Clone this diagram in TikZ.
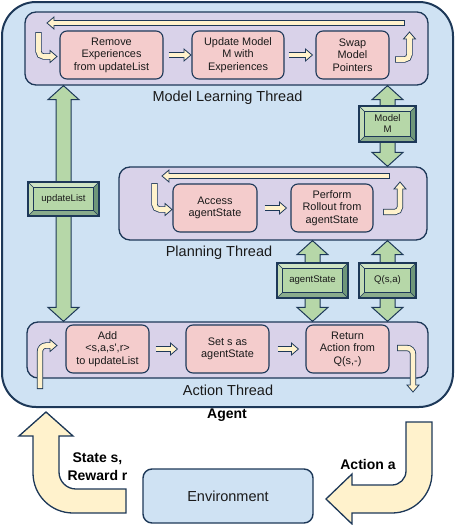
\documentclass[tikz,border=0pt]{standalone}
\usepackage{fontspec}
\setmainfont{Liberation Sans}
\usetikzlibrary{calc}
\pgfdeclarelayer{front}
\pgfsetlayers{main,front}
\definecolor{dk}{HTML}{1D3858}
\definecolor{ag}{HTML}{CFE2F3}
\definecolor{th}{HTML}{D9D2E9}
\definecolor{bx}{HTML}{F4CCCC}
\definecolor{cr}{HTML}{FFF2CC}
\definecolor{gr}{HTML}{B6D7A8}
\definecolor{bvtop}{HTML}{CFE4C4}
\definecolor{bvleft}{HTML}{C2DBB5}
\definecolor{bvright}{HTML}{6F977A}
\definecolor{bvbot}{HTML}{8AAC8C}
\definecolor{tx}{HTML}{1A1A1A}
% cream outlined arrow: #1 opts, #2 shaft path (ends at base), #3 base, #4 tip
\newcommand{\barrow}[4][]{%
  \draw[dk, line width=6.2pt, #1] #2;
  \filldraw[fill=cr, draw=dk, line width=0.8pt, line join=miter]
    ($(#3)!6pt!90:(#4)$) -- (#4) -- ($(#3)!6pt!-90:(#4)$) -- cycle;
  \draw[cr, line width=4.6pt, shorten <=0.8pt, shorten >=-1.2pt, #1] #2;
}
% straight cream arrow from coord #1 to tip coord #2
\newcommand{\sarrow}[2]{%
  \coordinate (sab) at ($(#2)!7pt!(#1)$);
  \barrow{(#1) -- (sab)}{sab}{#2}%
}
% green double-headed vertical arrow between tip coords #1 (top) and #2 (bottom)
\newcommand{\garrow}[2]{%
  \filldraw[fill=gr, draw=dk, line width=1pt, line join=miter]
    (#1) -- ($(#1)+(15.5,14)$) -- ($(#1)+(7.5,14)$) -- ($(#2)+(7.5,-14)$)
    -- ($(#2)+(15.5,-14)$) -- (#2) -- ($(#2)+(-15.5,-14)$) -- ($(#2)+(-7.5,-14)$)
    -- ($(#1)+(-7.5,14)$) -- ($(#1)+(-15.5,14)$) -- cycle;
}
\begin{document}
\begin{tikzpicture}[x=1pt,y=-1pt,
  txt/.style={font=\fontsize{10.9}{12.5}\selectfont, text=tx, align=center},
  box/.style={txt, draw=dk, line width=1.1pt, fill=bx, rounded corners=7pt, minimum height=48pt, inner sep=0pt},
  thread/.style={draw=dk, line width=1.3pt, fill=th, rounded corners=11pt, inner sep=0pt},
  tlabel/.style={font=\fontsize{14.5}{17}\selectfont, text=tx, anchor=base},
  blab/.style={font=\bfseries\fontsize{14}{18}\selectfont, text=black, align=center},
  bevbox/.style={draw=dk, line width=1.2pt, fill=gr, inner sep=0pt, align=center, text=tx,
    font=\fontsize{9.6}{11}\selectfont,
    path picture={
      \path (path picture bounding box.north west) coordinate (q1)
            (path picture bounding box.north east) coordinate (q2)
            (path picture bounding box.south east) coordinate (q3)
            (path picture bounding box.south west) coordinate (q4);
      \path ($(q1)+(5.5pt,-5.5pt)$) coordinate (r1)
            ($(q2)+(-5.5pt,-5.5pt)$) coordinate (r2)
            ($(q3)+(-5.5pt,5.5pt)$) coordinate (r3)
            ($(q4)+(5.5pt,5.5pt)$) coordinate (r4);
      \fill[bvtop] (q1) -- (q2) -- (r2) -- (r1) -- cycle;
      \fill[bvright] (q2) -- (q3) -- (r3) -- (r2) -- cycle;
      \fill[bvbot] (q3) -- (q4) -- (r4) -- (r3) -- cycle;
      \fill[bvleft] (q4) -- (q1) -- (r1) -- (r4) -- cycle;
      \draw[dk, line width=0.5pt] (q1) -- (r1) (q2) -- (r2) (q3) -- (r3) (q4) -- (r4);
      \filldraw[fill=gr, draw=dk, line width=0.7pt] (r1) rectangle (r3);
    }}
]
\useasboundingbox (0,0) rectangle (455,525);

% Agent
\node[draw=dk, line width=2pt, fill=ag, rounded corners=34pt, minimum width=451pt,
      minimum height=405pt, inner sep=0pt] (agent) at (227.5,204.5) {};
\node[blab, anchor=base] (agentl) at (227,418) {Agent};

% Threads
\node[thread, minimum width=403pt, minimum height=73pt] (mlt) at (226.5,48.5) {};
\node[tlabel] (mltl) at (227.5,101) {Model Learning Thread};
\node[thread, minimum width=308pt, minimum height=73pt] (pl) at (273,203.5) {};
\node[tlabel] (pll) at (219,256.5) {Planning Thread};
\node[thread, minimum width=401pt, minimum height=56pt] (act) at (227.5,350) {};
\node[tlabel] (actl) at (228,395) {Action Thread};

% Boxes
\node[box, minimum width=103pt] (remove) at (111.5,55) {Remove\\Experiences\\from updateList};
\node[box, minimum width=92pt] (update) at (238,55) {Update Model\\M with\\Experiences};
\node[box, minimum width=73pt] (swap) at (352.5,55) {Swap\\Model\\Pointers};
\node[box, minimum width=84pt] (access) at (215,208) {Access\\agentState};
\node[box, minimum width=82pt] (perform) at (332,208) {Perform\\Rollout from\\agentState};
\node[box, minimum width=83pt] (add) at (107.5,349) {Add\\\textless s,a,s\textquotesingle,r\textgreater\\to updateList};
\node[box, minimum width=83pt] (setn) at (227.5,349) {Set s as\\agentState};
\node[box, minimum width=83pt] (ret) at (347.5,349) {Return\\Action from\\Q(s,-)};

% Bevel nodes (front layer)
\begin{pgfonlayer}{front}
\node[bevbox, minimum width=71pt, minimum height=34pt] (upd) at (63.5,199) {updateList};
\node[bevbox, minimum width=57pt, minimum height=36pt] (mm) at (387.5,124) {Model\\M};
\node[bevbox, minimum width=71pt, minimum height=35pt] (ags) at (312.5,280.5) {agentState};
\node[bevbox, minimum width=57pt, minimum height=35pt] (qsa) at (387.5,280.5) {Q(s,a)};
\end{pgfonlayer}

% Green double arrows
\coordinate (ga1) at (mlt.south -| upd); \coordinate (gb1) at (act.north -| upd);
\coordinate (ga2) at (mlt.south -| mm);  \coordinate (gb2) at (pl.north -| mm);
\coordinate (ga3) at (pl.south -| ags);  \coordinate (gb3) at (act.north -| ags);
\coordinate (ga4) at (pl.south -| qsa);  \coordinate (gb4) at (act.north -| qsa);
\garrow{ga1}{gb1}
\garrow{ga2}{gb2}
\garrow{ga3}{gb3}
\garrow{ga4}{gb4}

% Cream arrows: model learning thread
\coordinate (m1t) at ($(remove.east)+(5,0)$);  \coordinate (m1p) at ($(update.west)+(-0.5,0)$);
\sarrow{m1t}{m1p}
\coordinate (m2t) at ($(update.east)+(4,0)$);  \coordinate (m2p) at ($(swap.west)+(-3,0)$);
\sarrow{m2t}{m2p}
\coordinate (mrt) at (405,23); \coordinate (mrp) at (47,23);
\sarrow{mrt}{mrp}
\coordinate (mlt1) at (38.5,32); \coordinate (mlc1) at (38.5,56.5);
\coordinate (mlb1) at (50,56.5); \coordinate (mlp1) at (57,56.5);
\barrow[rounded corners=5pt]{(mlt1) -- (mlc1) -- (mlb1)}{mlb1}{mlp1}
\coordinate (mrt1) at (395,59.5); \coordinate (mrc1) at (409.5,59.5);
\coordinate (mrb1) at (409.5,39); \coordinate (mrp1) at (409.5,32);
\barrow[rounded corners=5pt]{(mrt1) -- (mrc1) -- (mrb1)}{mrb1}{mrp1}

% Cream arrows: planning thread
\coordinate (p1t) at ($(access.east)+(7,0)$);  \coordinate (p1p) at ($(perform.west)+(-4,0)$);
\sarrow{p1t}{p1p}
\coordinate (prt) at (390,176); \coordinate (prp) at (162,176);
\sarrow{prt}{prp}
\coordinate (plt1) at (154.5,183); \coordinate (plc1) at (154.5,209.5);
\coordinate (plb1) at (165,209.5); \coordinate (plp1) at (172,209.5);
\barrow[rounded corners=5pt]{(plt1) -- (plc1) -- (plb1)}{plb1}{plp1}
\coordinate (prt1) at (383,212); \coordinate (prc1) at (400,212);
\coordinate (prb1) at (400,189); \coordinate (prp1) at (400,182);
\barrow[rounded corners=5pt]{(prt1) -- (prc1) -- (prb1)}{prb1}{prp1}

% Cream arrows: action thread
\coordinate (a1t) at ($(add.east)+(6,0)$);  \coordinate (a1p) at ($(setn.west)+(-8,0)$);
\sarrow{a1t}{a1p}
\coordinate (a2t) at ($(setn.east)+(8,0)$);  \coordinate (a2p) at ($(ret.west)+(-7,0)$);
\sarrow{a2t}{a2p}
\coordinate (alt1) at (40,389); \coordinate (alc1) at (40,345.5);
\coordinate (alb1) at (50,345.5); \coordinate (alp1) at (57,345.5);
\barrow[rounded corners=6pt]{(alt1) -- (alc1) -- (alb1)}{alb1}{alp1}
\coordinate (art1) at (397,348); \coordinate (arc1) at (413,348);
\coordinate (arb1) at (413,385); \coordinate (arp1) at (413,392);
\barrow[rounded corners=6pt]{(art1) -- (arc1) -- (arb1)}{arb1}{arp1}

% Environment
\node[draw=dk, line width=1.4pt, fill=ag, rounded corners=9pt, minimum width=170pt,
      minimum height=54pt, inner sep=0pt, font=\fontsize{14.5}{17}\selectfont, text=tx]
      (env) at (228,496) {Environment};

% Big U arrows
\filldraw[fill=cr, draw=dk, line width=1.3pt, line join=miter]
  (126,513) -- (73,513) .. controls (50.9,513) and (33,495.1) .. (33,473)
  -- (33,436) -- (19,436) -- (46,412) -- (73,436) -- (59,436) -- (59,472)
  .. controls (59,481.4) and (66.6,489) .. (76,489) -- (126,489) -- cycle;
\filldraw[fill=cr, draw=dk, line width=1.3pt, line join=miter]
  (406,422) -- (432,422) -- (432,473) .. controls (432,495.1) and (414.1,513) .. (392,513)
  -- (352,513) -- (352,524) -- (326,499) -- (352,474) -- (352,485) -- (392,485)
  .. controls (399.7,485) and (406,478.7) .. (406,471) -- cycle;
\node[blab] (srl) at (97.5,467) {State s,\\Reward r};
\node[blab, anchor=base] (aal) at (368,469) {Action a};
\end{tikzpicture}
\end{document}
